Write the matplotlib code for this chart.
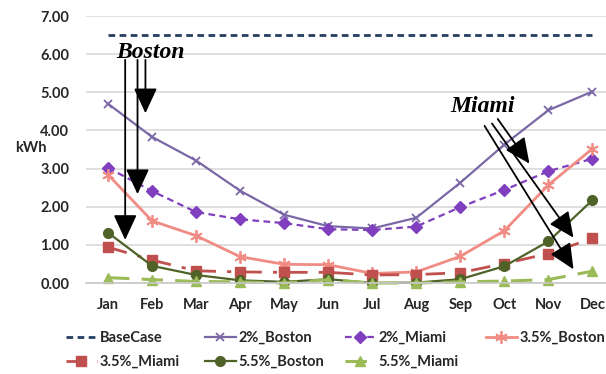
import matplotlib
matplotlib.use("Agg")
import matplotlib.pyplot as plt

months = ["Jan", "Feb", "Mar", "Apr", "May", "Jun", "Jul", "Aug", "Sep", "Oct", "Nov", "Dec"]

base_case = [6.5] * 12
boston_2 = [4.70, 3.83, 3.21, 2.42, 1.79, 1.49, 1.43, 1.71, 2.63, 3.63, 4.53, 5.02]
miami_2 = [3.02, 2.41, 1.86, 1.67, 1.57, 1.41, 1.39, 1.48, 1.99, 2.44, 2.93, 3.26]
boston_35 = [2.84, 1.63, 1.24, 0.69, 0.49, 0.48, 0.25, 0.29, 0.70, 1.37, 2.57, 3.52]
miami_35 = [0.94, 0.60, 0.32, 0.29, 0.28, 0.28, 0.21, 0.22, 0.27, 0.51, 0.77, 1.17]
boston_55 = [1.32, 0.45, 0.21, 0.07, 0.03, 0.10, 0.00, 0.01, 0.10, 0.44, 1.09, 2.17]
miami_55 = [0.14, 0.09, 0.04, 0.03, 0.00, 0.09, 0.00, 0.00, 0.03, 0.05, 0.09, 0.31]

plt.rcParams['font.family'] = ['Lato', 'DejaVu Sans']
plt.rcParams['font.weight'] = 'bold'
txt = '#262626'

fig = plt.figure(figsize=(6.06, 3.74), dpi=100)
ax = fig.add_axes([0.1419, 0.2433, 0.872, 0.7139])

x = list(range(12))
series = [
    ("BaseCase", base_case, dict(color='#243F60', ls=(0, (2.4, 1.6)), lw=2.0, marker=None)),
    ("2%_Boston", boston_2, dict(color='#7A68A6', ls='-', lw=1.6, marker='x', ms=6, mew=1.3)),
    ("2%_Miami", miami_2, dict(color='#7F3FBF', ls=(0, (3, 2)), lw=1.6, marker='D', ms=6)),
    ("3.5%_Boston", boston_35, dict(color='#F08C84', ls='-', lw=2.0, marker=(6, 2, 0), ms=9, mew=1.3)),
    ("3.5%_Miami", miami_35, dict(color='#C0504D', ls=(0, (7, 4, 1.5, 4)), lw=2.0, marker='s', ms=7)),
    ("5.5%_Boston", boston_55, dict(color='#4F6228', ls='-', lw=1.6, marker='o', ms=7)),
    ("5.5%_Miami", miami_55, dict(color='#9BBB59', ls=(0, (7, 4)), lw=2.2, marker='^', ms=7)),
]

handles = []
for name, vals, st in series:
    line, = ax.plot(x, vals, label=name, clip_on=False, **st)
    handles.append(line)

ax.set_xlim(-0.5, 11.5)
ax.set_ylim(0, 7)
ax.set_yticks([0, 1, 2, 3, 4, 5, 6, 7])
ax.set_yticklabels(["%.2f" % v for v in range(8)])
ax.set_xticks(x)
ax.set_xticklabels(months)
ax.tick_params(length=0, labelsize=10.5, colors=txt)
ax.tick_params(axis='y', pad=12)
ax.tick_params(axis='x', pad=11)
ax.grid(axis='y', color='#D9D9D9', lw=1.2)
ax.set_axisbelow(True)
for s in ['top', 'right', 'left']:
    ax.spines[s].set_visible(False)
ax.spines['bottom'].set_color('#C8C8C8')
ax.spines['bottom'].set_linewidth(1.2)

fig.text(31 / 606, 1 - 148 / 374, "kWh", ha='center', va='center', fontsize=10.5, color=txt)

# annotations
ann_font = dict(family=['Liberation Serif', 'DejaVu Serif'], style='italic', weight='bold', size=17)
ax.text(0.96, 6.05, "Boston", ha='center', va='center', **ann_font)
ax.text(8.5, 4.63, "Miami", ha='center', va='center', **ann_font)

arrow = dict(arrowstyle='-|>,head_length=0.78,head_width=0.36', color='black',
             lw=1.3, mutation_scale=20, shrinkA=0, shrinkB=0)
boston_arrows = [((0.39, 5.85), (0.39, 1.13)),
                 ((0.67, 5.85), (0.67, 2.33)),
                 ((0.85, 5.85), (0.85, 4.45))]
miami_arrows = [((8.85, 4.30), (9.57, 3.13)),
                ((8.72, 4.18), (10.57, 1.19)),
                ((8.55, 4.12), (10.57, 0.36))]
for start, tip in boston_arrows + miami_arrows:
    ax.annotate("", xy=tip, xytext=start, arrowprops=arrow)

# legend, one entry per slot as in the original layout
cols = [66, 205, 345, 486]
rows = [338, 362]
for k in range(len(series)):
    r, c = divmod(k, 4)
    fig.legend([handles[k]], [series[k][0]], loc='center left',
               bbox_to_anchor=(cols[c] / 606, 1 - rows[r] / 374),
               frameon=False, fontsize=10.5, handlelength=2.1, handletextpad=0.2,
               borderpad=0, borderaxespad=0, labelcolor=txt)

fig.savefig("out.png", dpi=100)
